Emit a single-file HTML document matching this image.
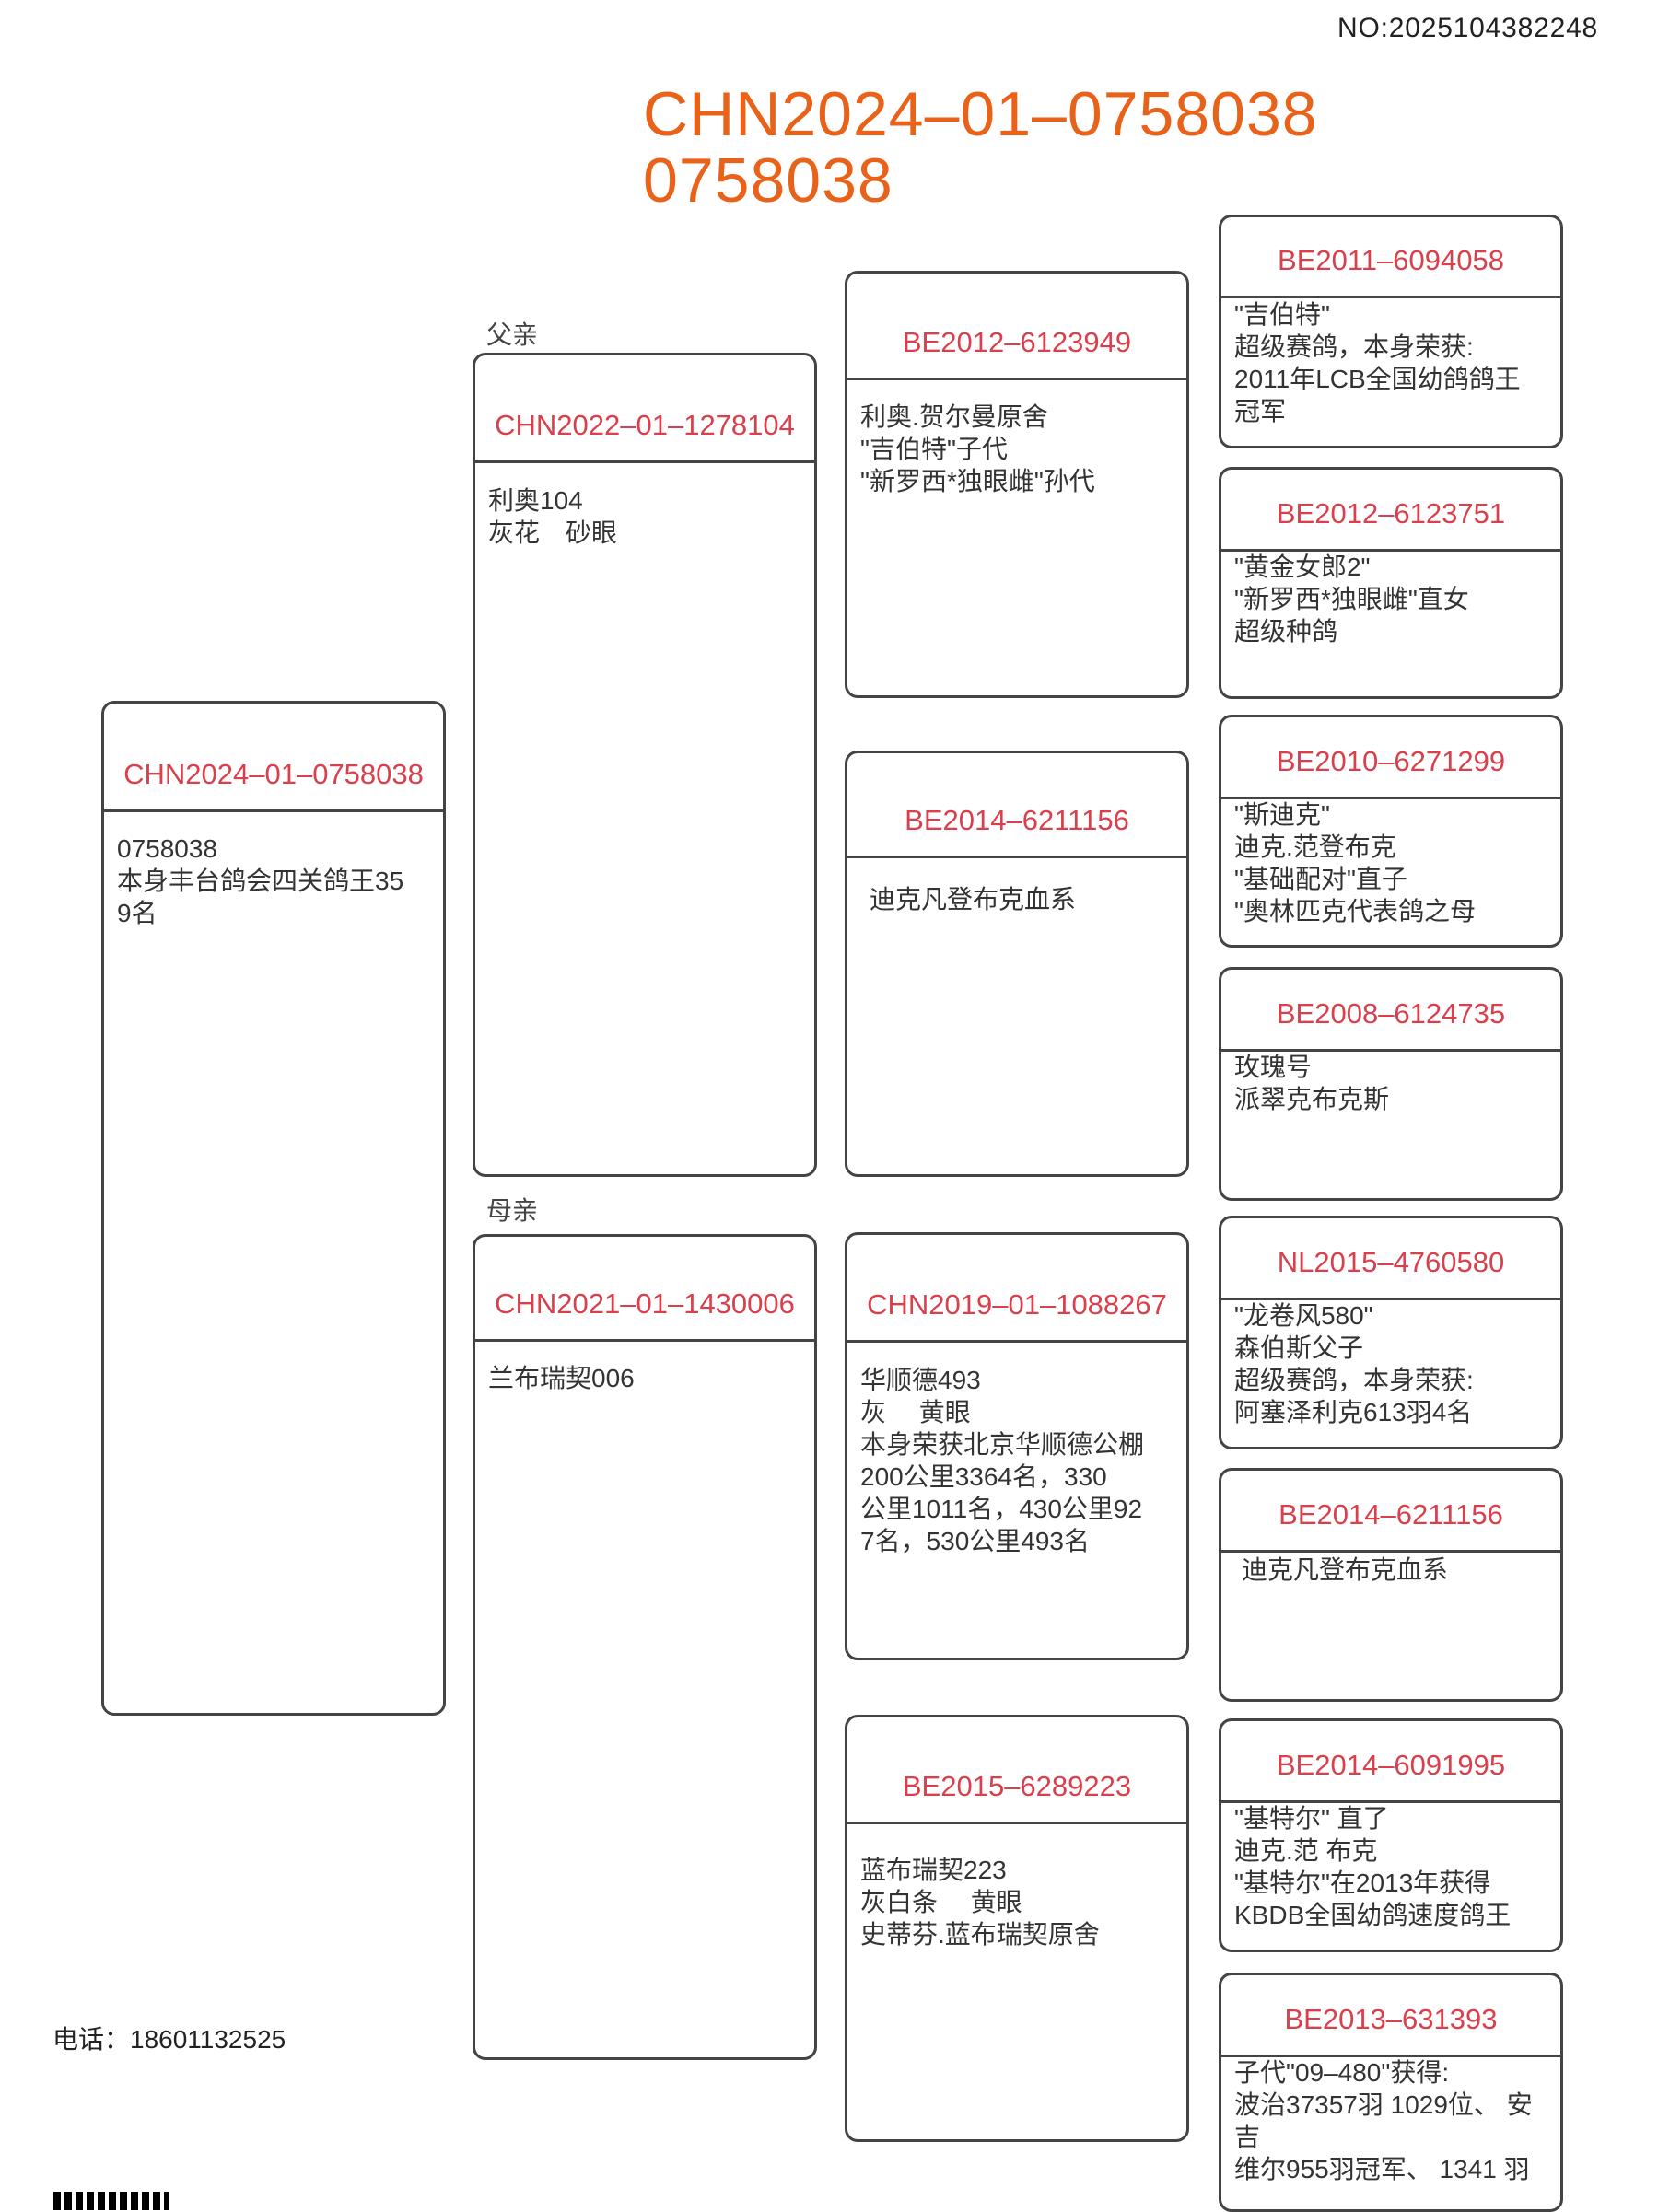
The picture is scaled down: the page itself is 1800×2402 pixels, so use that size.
<!DOCTYPE html>
<html><head><meta charset="utf-8"><style>
body{margin:0;width:1800px;height:2400px;background:#fff;position:relative;overflow:hidden;font-family:"Liberation Sans","Noto Sans CJK SC",sans-serif;color:#333;}
.b{position:absolute;width:368px;border:3px solid #444;border-radius:14px;box-sizing:content-box;}
.h{position:absolute;left:0;right:0;top:0;border-bottom:3px solid #444;display:flex;align-items:flex-end;justify-content:center;padding-bottom:0;box-sizing:border-box;}
.h span{color:#d9404c;font-size:31px;line-height:40px;margin-bottom:18px;white-space:nowrap;}
.t{position:absolute;left:14px;right:4px;font-size:28px;line-height:35px;white-space:pre;}
.lbl{position:absolute;font-size:28px;color:#444;}
</style></head><body>
<div style="position:absolute;left:1452px;top:14px;font-size:30px;letter-spacing:0.8px;color:#222;">NO:2025104382248</div>
<div style="position:absolute;left:698px;top:88px;font-size:68px;letter-spacing:1px;line-height:72px;color:#e8621a;">CHN2024–01–0758038<br>0758038</div>
<div class="lbl" style="left:528px;top:342px;">父亲</div>
<div class="lbl" style="left:528px;top:1293px;">母亲</div>
<div style="position:absolute;left:57px;top:2193px;font-size:28px;color:#222;">电话：18601132525</div>
<div style="position:absolute;left:58px;top:2380px;width:125px;height:20px;background:repeating-linear-gradient(90deg,#000 0 8px,#fff 8px 12px);"></div>

<div class="b" style="left:110px;top:761px;height:1096px;"><div class="h" style="height:118px;"><span>CHN2024–01–0758038</span></div><div class="t" style="top:140px;">0758038
本身丰台鸽会四关鸽王35
9名</div></div>

<div class="b" style="left:513px;top:383px;height:889px;"><div class="h" style="height:117px;"><span>CHN2022–01–1278104</span></div><div class="t" style="top:140px;">利奥104
灰花　砂眼</div></div>
<div class="b" style="left:513px;top:1340px;height:891px;"><div class="h" style="height:114px;"><span>CHN2021–01–1430006</span></div><div class="t" style="top:136px;">兰布瑞契006</div></div>

<div class="b" style="left:917px;top:294px;height:458px;"><div class="h" style="height:116px;"><span>BE2012–6123949</span></div><div class="t" style="top:138px;">利奥.贺尔曼原舍
"吉伯特"子代
"新罗西*独眼雌"孙代</div></div>
<div class="b" style="left:917px;top:815px;height:457px;"><div class="h" style="height:114px;"><span>BE2014–6211156</span></div><div class="t" style="top:141px;left:24px;">迪克凡登布克血系</div></div>
<div class="b" style="left:917px;top:1338px;height:459px;"><div class="h" style="height:117px;"><span>CHN2019–01–1088267</span></div><div class="t" style="top:140px;">华顺德493
灰　 黄眼
本身荣获北京华顺德公棚
200公里3364名，330
公里1011名，430公里92
7名，530公里493名</div></div>
<div class="b" style="left:917px;top:1862px;height:458px;"><div class="h" style="height:116px;"><span>BE2015–6289223</span></div><div class="t" style="top:148px;">蓝布瑞契223
灰白条　 黄眼
史蒂芬.蓝布瑞契原舍</div></div>

<div class="b" style="left:1323px;top:233px;height:248px;"><div class="h" style="height:88px;"><span>BE2011–6094058</span></div><div class="t" style="top:88px;">"吉伯特"
超级赛鸽，本身荣获:
2011年LCB全国幼鸽鸽王
冠军</div></div>
<div class="b" style="left:1323px;top:507px;height:246px;"><div class="h" style="height:89px;"><span>BE2012–6123751</span></div><div class="t" style="top:88px;">"黄金女郎2"
"新罗西*独眼雌"直女
超级种鸽</div></div>
<div class="b" style="left:1323px;top:776px;height:247px;"><div class="h" style="height:89px;"><span>BE2010–6271299</span></div><div class="t" style="top:88px;">"斯迪克"
迪克.范登布克
"基础配对"直子
"奥林匹克代表鸽之母</div></div>
<div class="b" style="left:1323px;top:1050px;height:248px;"><div class="h" style="height:89px;"><span>BE2008–6124735</span></div><div class="t" style="top:88px;">玫瑰号
派翠克布克斯</div></div>
<div class="b" style="left:1323px;top:1320px;height:248px;"><div class="h" style="height:89px;"><span>NL2015–4760580</span></div><div class="t" style="top:88px;">"龙卷风580"
森伯斯父子
超级赛鸽，本身荣获:
阿塞泽利克613羽4名</div></div>
<div class="b" style="left:1323px;top:1594px;height:248px;"><div class="h" style="height:89px;"><span>BE2014–6211156</span></div><div class="t" style="top:90px;left:22px;">迪克凡登布克血系</div></div>
<div class="b" style="left:1323px;top:1866px;height:248px;"><div class="h" style="height:89px;"><span>BE2014–6091995</span></div><div class="t" style="top:88px;">"基特尔" 直了
迪克.范 布克
"基特尔"在2013年获得
KBDB全国幼鸽速度鸽王</div></div>
<div class="b" style="left:1323px;top:2142px;height:254px;"><div class="h" style="height:89px;"><span>BE2013–631393</span></div><div class="t" style="top:88px;">子代"09–480"获得:
波治37357羽 1029位、 安
吉
维尔955羽冠军、 1341 羽</div></div>
</body></html>
